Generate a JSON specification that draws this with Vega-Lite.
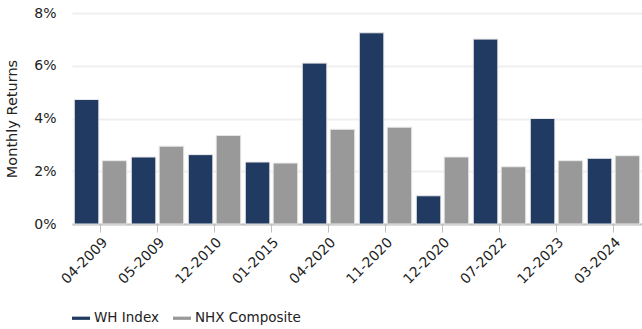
{
  "$schema": "https://vega.github.io/schema/vega-lite/v6.json",
  "autosize": {"type": "none"},
  "width": 570,
  "height": 211,
  "padding": {"left": 72, "top": 13, "right": 0, "bottom": 105},
  "background": "white",
  "config": {
    "font": "DejaVu Sans",
    "view": {"stroke": null}
  },
  "data": {
    "values": [
      {"month": "04-2009", "series": "WH Index", "value": 0.0472},
      {"month": "04-2009", "series": "NHX Composite", "value": 0.0240},
      {"month": "05-2009", "series": "WH Index", "value": 0.0254},
      {"month": "05-2009", "series": "NHX Composite", "value": 0.0295},
      {"month": "12-2010", "series": "WH Index", "value": 0.0263},
      {"month": "12-2010", "series": "NHX Composite", "value": 0.0336},
      {"month": "01-2015", "series": "WH Index", "value": 0.0235},
      {"month": "01-2015", "series": "NHX Composite", "value": 0.0231},
      {"month": "04-2020", "series": "WH Index", "value": 0.0610},
      {"month": "04-2020", "series": "NHX Composite", "value": 0.0359},
      {"month": "11-2020", "series": "WH Index", "value": 0.0725},
      {"month": "11-2020", "series": "NHX Composite", "value": 0.0367},
      {"month": "12-2020", "series": "WH Index", "value": 0.0107},
      {"month": "12-2020", "series": "NHX Composite", "value": 0.0254},
      {"month": "07-2022", "series": "WH Index", "value": 0.0701},
      {"month": "07-2022", "series": "NHX Composite", "value": 0.0217},
      {"month": "12-2023", "series": "WH Index", "value": 0.0400},
      {"month": "12-2023", "series": "NHX Composite", "value": 0.0240},
      {"month": "03-2024", "series": "WH Index", "value": 0.0249},
      {"month": "03-2024", "series": "NHX Composite", "value": 0.0259}
    ]
  },
  "mark": {"type": "bar", "stroke": "#e8e8e8", "strokeWidth": 1},
  "encoding": {
    "x": {
      "field": "month",
      "type": "nominal",
      "sort": null,
      "scale": {"paddingInner": 0.08, "paddingOuter": 0.04},
      "axis": {
        "title": null,
        "labelAngle": -45,
        "labelAlign": "right",
        "labelBaseline": "top",
        "labelFontSize": 14,
        "labelColor": "#222222",
        "labelPadding": 3,
        "domainColor": "#c0c0c0",
        "domainWidth": 2,
        "tickColor": "#c0c0c0",
        "tickSize": 8,
        "grid": false
      }
    },
    "xOffset": {
      "field": "series",
      "type": "nominal",
      "sort": ["WH Index", "NHX Composite"],
      "scale": {"paddingInner": 0.12}
    },
    "y": {
      "field": "value",
      "type": "quantitative",
      "scale": {"domain": [0, 0.08], "nice": false},
      "axis": {
        "title": "Monthly Returns",
        "titleFontSize": 14.5,
        "titleFontWeight": "normal",
        "titleColor": "#222222",
        "titlePadding": 14,
        "format": ".0%",
        "values": [0, 0.02, 0.04, 0.06, 0.08],
        "labelFontSize": 14,
        "labelColor": "#222222",
        "labelPadding": 16,
        "domain": false,
        "ticks": false,
        "gridColor": "#efefef",
        "gridWidth": 2
      }
    },
    "color": {
      "field": "series",
      "type": "nominal",
      "sort": ["WH Index", "NHX Composite"],
      "scale": {"domain": ["WH Index", "NHX Composite"], "range": ["#213a61", "#999999"]},
      "legend": {
        "title": null,
        "orient": "none",
        "legendX": 0,
        "legendY": 296,
        "direction": "horizontal",
        "symbolType": "M-1,-0.18L1,-0.18L1,0.18L-1,0.18Z",
        "symbolSize": 324,
        "symbolStrokeWidth": 0,
        "labelFontSize": 13.5,
        "labelColor": "#222222",
        "columnPadding": 14,
        "labelOffset": 4
      }
    }
  }
}
